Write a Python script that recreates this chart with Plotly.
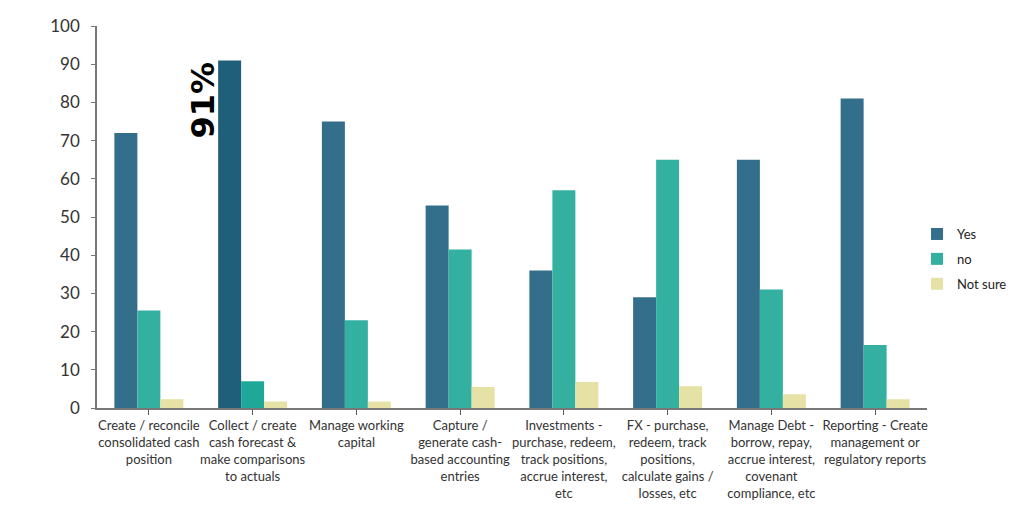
import plotly.graph_objects as go

categories = [
    "Create / reconcile<br>consolidated cash<br>position",
    "Collect / create<br>cash forecast &<br>make comparisons<br>to actuals",
    "Manage working<br>capital",
    "Capture /<br>generate cash-<br>based accounting<br>entries",
    "Investments -<br>purchase, redeem,<br>track positions,<br>accrue interest,<br>etc",
    "FX - purchase,<br>redeem, track<br>positions,<br>calculate gains /<br>losses, etc",
    "Manage Debt -<br>borrow, repay,<br>accrue interest,<br>covenant<br>compliance, etc",
    "Reporting - Create<br>management or<br>regulatory reports",
]
yes_vals = [72, 91, 75, 53, 36, 29, 65, 81]
no_vals = [25.5, 7, 23, 41.5, 57, 65, 31, 16.5]
notsure_vals = [2.3, 1.7, 1.7, 5.5, 6.8, 5.7, 3.6, 2.3]
highlight_idx = 1
highlight_label = "91%"

yes_col = "#336F8A"
no_col = "#33B0A0"
ns_col = "#E6E2A6"
yes_colors = [yes_col] * len(categories)
no_colors = [no_col] * len(categories)
yes_colors[highlight_idx] = "#1F5F7A"
no_colors[highlight_idx] = "#1FA898"

x = list(range(len(categories)))

fig = go.Figure()
fig.add_trace(go.Bar(x=x, y=yes_vals, name="Yes", legendgroup="a",
                     marker=dict(color=yes_colors, line=dict(width=0))))
fig.add_trace(go.Bar(x=x, y=no_vals, name="no", legendgroup="b",
                     marker=dict(color=no_colors, line=dict(width=0))))
fig.add_trace(go.Bar(x=x, y=notsure_vals, name="Not sure", legendgroup="c",
                     marker=dict(color=ns_col, line=dict(width=0))))

fig.add_annotation(
    x=highlight_idx, y=yes_vals[highlight_idx], xref="x", yref="y",
    text="<b>" + highlight_label + "</b>", showarrow=False, textangle=-90,
    xanchor="right", yanchor="top", xshift=-29, yshift=1,
    font=dict(family="DejaVu Sans", size=32, color="#000000"),
)

fig.update_layout(
    width=1024, height=510,
    margin=dict(l=89, r=105, t=18, b=110, autoexpand=False),
    paper_bgcolor="white", plot_bgcolor="white",
    barmode="group", bargap=0.335, bargroupgap=0,
    font=dict(family="Lato, Open Sans, sans-serif", color="#333333"),
    showlegend=True,
    legend=dict(x=0.988, xanchor="left", y=0.39, yanchor="middle",
                font=dict(size=13, color="#222222"), tracegroupgap=5,
                itemwidth=30, bgcolor="rgba(0,0,0,0)"),
    xaxis=dict(
        tickmode="array", tickvals=x, ticktext=categories,
        tickson="boundaries", ticks="outside", ticklen=5, tickcolor="#555555",
        showline=True, linecolor="#777777", linewidth=1.5,
        tickfont=dict(size=13, color="#333333"), showgrid=False,
        range=[-0.5, len(categories) - 0.5], tickangle=0, automargin=False,
    ),
    yaxis=dict(
        range=[0, 100], dtick=10, showgrid=False, zeroline=False,
        showline=True, linecolor="#777777", linewidth=1.5,
        ticks="outside", ticklen=4, tickcolor="#777777",
        tickfont=dict(size=17, color="#333333"), automargin=False,
        ticklabelstandoff=8,
    ),
)

fig.write_html("out.html")
